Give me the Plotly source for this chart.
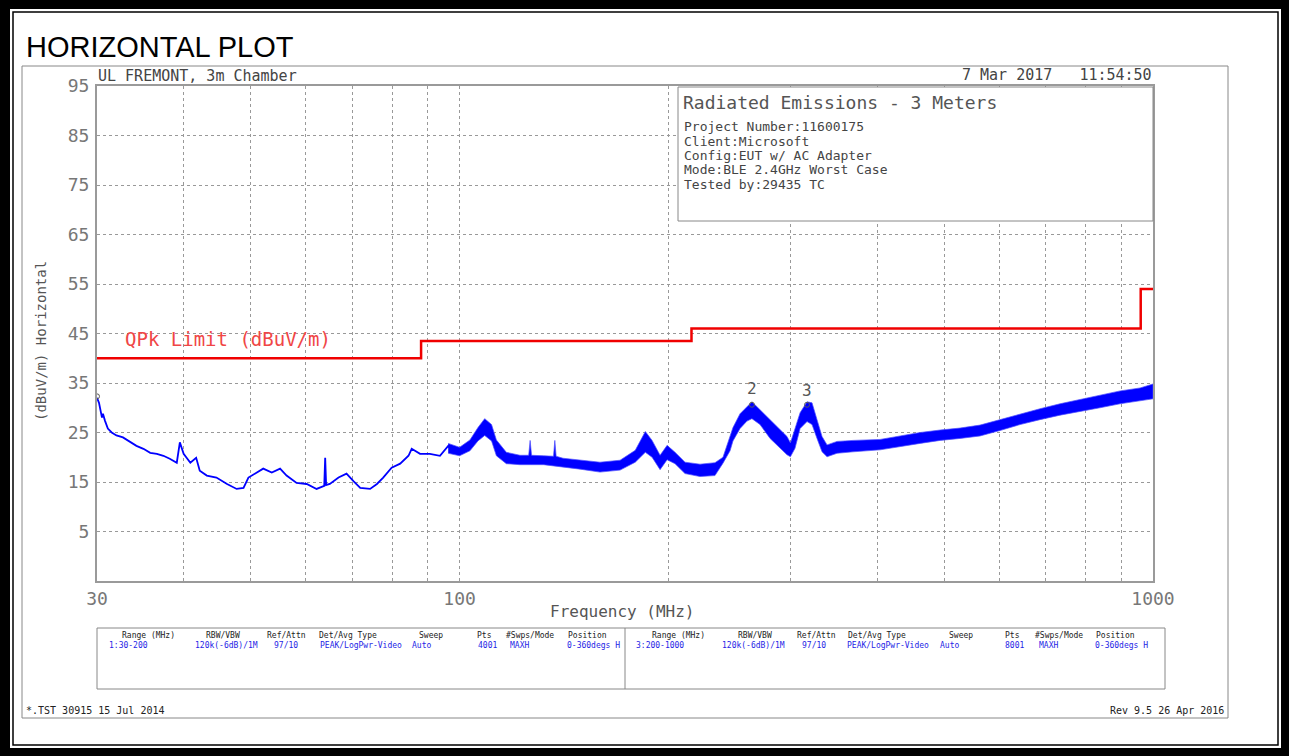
import math
import plotly.graph_objects as go

# ---------------- data ----------------
# 30-100 MHz: the trace is a thin line
trace_freq = [30.0, 30.2, 30.5, 30.6, 30.8, 31.1, 31.5, 32.0, 32.7, 33.5, 34.2, 35.0, 35.8,
              36.6, 37.4, 38.2, 39.1, 39.5, 40.0, 40.9, 41.7, 42.2, 43.2, 44.6, 46.2, 47.7,
              48.8, 49.6, 51.0, 52.1, 53.6, 55.1, 56.3, 58.2, 60.2, 62.2, 63.8, 64.0, 64.2,
              65.0, 66.9, 68.7, 70.3, 71.9, 74.3, 76.0, 77.6, 79.8, 82.1, 84.4, 85.3, 87.7,
              90.6, 93.7, 96.3, 98.0]
trace_db = [32.0, 31.0, 28.0, 28.8, 27.4, 25.8, 25.0, 24.4, 24.0, 23.0, 22.3, 21.7, 20.9,
            20.7, 20.3, 19.7, 18.9, 23.0, 20.7, 18.9, 19.9, 17.3, 16.3, 15.9, 14.6, 13.6,
            13.8, 15.9, 16.9, 17.7, 16.9, 17.7, 16.3, 14.8, 14.6, 13.6, 14.2, 19.9, 14.4,
            14.6, 15.9, 16.7, 15.2, 13.8, 13.6, 14.6, 15.9, 17.9, 18.7, 20.3, 21.7, 20.7,
            20.7, 20.3, 22.3, 21.0]

# 96-1000 MHz: dense noisy trace, read as upper / lower envelope
band_freq = [96.3, 100.0, 103.5, 106.3, 108.7, 111.2, 113.0, 116.8, 122.2, 125.8, 126.4,
             127.0, 132.2, 136.6, 137.2, 137.8, 141.0, 149.2, 159.4, 170.4, 179.2, 185.3,
             189.5, 194.6, 199.2, 204.5, 211.4, 222.2, 233.5, 239.8, 245.5, 247.9, 253.8,
             259.7, 264.0, 271.2, 280.4, 289.8, 296.6, 300.0, 304.6, 309.8, 317.0, 322.3,
             327.7, 333.2, 338.8, 350.2, 369.4, 404.1, 431.8, 461.5, 493.2, 526.9, 563.1,
             601.7, 643.1, 687.2, 734.4, 785.0, 838.8, 896.5, 958.0, 1000.0]
band_hi = [22.8, 22.0, 23.5, 26.0, 27.8, 26.6, 23.5, 21.0, 20.4, 20.4, 23.4, 20.4, 20.3,
           20.2, 23.4, 20.2, 19.8, 19.4, 19.0, 19.4, 21.4, 25.2, 23.4, 20.4, 22.4, 21.0,
           19.0, 18.6, 18.9, 20.0, 24.0, 26.0, 28.8, 30.2, 31.2, 29.6, 27.6, 25.6, 24.2,
           22.9, 26.0, 29.0, 31.2, 31.0, 27.6, 24.2, 22.5, 23.2, 23.4, 23.6, 24.3, 25.0,
           25.5, 25.9, 26.5, 27.6, 28.8, 29.8, 30.8, 31.7, 32.5, 33.4, 34.0, 34.8]
band_lo = [20.8, 20.3, 21.3, 23.3, 24.4, 23.3, 20.3, 18.7, 18.5, 18.5, 18.5, 18.5, 18.5,
           18.3, 18.3, 18.3, 18.0, 17.6, 17.0, 17.4, 19.0, 21.0, 20.0, 17.5, 19.5, 18.7,
           16.7, 16.1, 16.3, 18.8, 21.3, 23.3, 25.8, 27.3, 27.8, 26.6, 23.8, 21.8, 20.5,
           20.1, 21.8, 25.8, 27.2, 26.6, 23.8, 21.1, 20.1, 20.8, 21.1, 21.5, 22.2, 22.8,
           23.4, 23.8, 24.3, 25.4, 26.6, 27.6, 28.5, 29.3, 30.0, 30.8, 31.4, 31.8]

limit_freq = [30, 88, 216, 960, 1000]
limit_db = [40.0, 43.5, 46.0, 54.0, 54.0]

marker_freq = [30.0, 264.0, 317.0]
marker_db = [32.3, 30.6, 30.6]
marker_label = ["", "2", "3"]
marker_label_db = [33.8, 33.8, 33.4]

y_ticks = [5, 15, 25, 35, 45, 55, 65, 75, 85, 95]
x_grid = [30, 40, 50, 60, 70, 80, 90, 100, 200, 300, 400, 500, 600, 700, 800, 900, 1000]
x_labels = {30: "30", 100: "100", 1000: "1000"}

info_title = "Radiated Emissions - 3 Meters"
info_lines = ["Project Number:11600175", "Client:Microsoft", "Config:EUT w/ AC Adapter",
              "Mode:BLE 2.4GHz Worst Case", "Tested by:29435 TC"]

table_headers = ["Range (MHz)", "RBW/VBW", "Ref/Attn", "Det/Avg Type", "Sweep", "Pts",
                 "#Swps/Mode", "Position"]
table_row1 = ["1:30-200", "120k(-6dB)/1M", "97/10", "PEAK/LogPwr-Video", "Auto", "4001",
              "MAXH", "0-360degs H"]
table_row2 = ["3:200-1000", "120k(-6dB)/1M", "97/10", "PEAK/LogPwr-Video", "Auto", "8001",
              "MAXH", "0-360degs H"]

# ---------------- layout helpers (pixel -> paper) ----------------
W, H = 1289, 756
L, R, T, B = 97, 1153, 86, 581


def px(x):
    return (x - L) / (R - L)


def py(y):
    return (B - y) / (B - T)


MONO = "DejaVu Sans Mono"
BLUE = "rgb(0,0,255)"

fig = go.Figure()

# measured trace: dense band above 96 MHz
fig.add_trace(go.Scatter(
    x=band_freq + band_freq[::-1],
    y=band_hi + band_lo[::-1],
    fill="toself", fillcolor=BLUE,
    line=dict(color="rgba(80,80,255,0.7)", width=1),
    mode="lines", hoverinfo="skip", showlegend=False))

# measured trace: thin line below 100 MHz
fig.add_trace(go.Scatter(
    x=trace_freq, y=trace_db, mode="lines",
    line=dict(color=BLUE, width=1.8), hoverinfo="skip", showlegend=False))

# limit line
fig.add_trace(go.Scatter(
    x=limit_freq, y=limit_db, mode="lines", line_shape="hv",
    line=dict(color="rgb(240,0,0)", width=2.5), showlegend=False))

# markers
fig.add_trace(go.Scatter(
    x=marker_freq, y=marker_db, mode="markers",
    marker=dict(symbol="circle-open", size=5, color="rgb(90,90,90)", line=dict(width=1)),
    showlegend=False))

ann = []
for f, d, lab in zip(marker_freq, marker_label_db, marker_label):
    if lab:
        ann.append(dict(x=math.log10(f), y=d, xref="x", yref="y", text=lab, showarrow=False,
                        font=dict(family=MONO, size=16, color="#555"), yanchor="middle"))

# texts
ann.append(dict(x=px(24), y=py(47), xref="paper", yref="paper", text="HORIZONTAL PLOT",
                showarrow=False, xanchor="left", yanchor="middle",
                font=dict(family="Liberation Sans", size=29, color="black")))
ann.append(dict(x=px(96), y=py(76), xref="paper", yref="paper", text="UL FREMONT, 3m Chamber",
                showarrow=False, xanchor="left", yanchor="middle",
                font=dict(family=MONO, size=15, color="#444")))
ann.append(dict(x=px(1154), y=py(75), xref="paper", yref="paper", text="7 Mar 2017   11:54:50",
                showarrow=False, xanchor="right", yanchor="middle",
                font=dict(family=MONO, size=15, color="#444")))
ann.append(dict(x=px(681), y=py(102), xref="paper", yref="paper", text=info_title,
                showarrow=False, xanchor="left", yanchor="middle",
                font=dict(family=MONO, size=18, color="#555")))
for i, line in enumerate(info_lines):
    ann.append(dict(x=px(682), y=py(127 + i * 14.3), xref="paper", yref="paper", text=line,
                    showarrow=False, xanchor="left", yanchor="middle",
                    font=dict(family=MONO, size=13, color="#444")))
ann.append(dict(x=px(123), y=py(339), xref="paper", yref="paper", text="QPk Limit (dBuV/m)",
                showarrow=False, xanchor="left", yanchor="middle",
                font=dict(family=MONO, size=19, color="rgb(240,70,70)")))
ann.append(dict(x=px(622), y=py(611), xref="paper", yref="paper", text="Frequency (MHz)",
                showarrow=False, xanchor="center", yanchor="middle",
                font=dict(family=MONO, size=16, color="#555")))
ann.append(dict(x=px(41), y=py(341), xref="paper", yref="paper", text="(dBuV/m) Horizontal",
                showarrow=False, xanchor="center", yanchor="middle", textangle=-90,
                font=dict(family=MONO, size=14, color="#555")))

# table
hdr_x = [[120, 204, 265, 317, 417, 475, 504, 566], [650, 736, 795, 846, 947, 1003, 1033, 1094]]
val_x = [[107, 193, 272, 318, 410, 476, 508, 565], [634, 720, 800, 845, 938, 1003, 1037, 1093]]
for half, row in enumerate([table_row1, table_row2]):
    for j in range(len(table_headers)):
        ann.append(dict(x=px(hdr_x[half][j]), y=py(635), xref="paper", yref="paper",
                        text=table_headers[j], showarrow=False, xanchor="left", yanchor="middle",
                        font=dict(family=MONO, size=8, color="#222")))
        ann.append(dict(x=px(val_x[half][j]), y=py(645), xref="paper", yref="paper",
                        text=row[j], showarrow=False, xanchor="left", yanchor="middle",
                        font=dict(family=MONO, size=8, color="rgb(30,30,230)")))

ann.append(dict(x=px(24), y=py(710), xref="paper", yref="paper", text="*.TST 30915 15 Jul 2014",
                showarrow=False, xanchor="left", yanchor="middle",
                font=dict(family=MONO, size=10, color="#222")))
ann.append(dict(x=px(1226), y=py(710), xref="paper", yref="paper", text="Rev 9.5 26 Apr 2016",
                showarrow=False, xanchor="right", yanchor="middle",
                font=dict(family=MONO, size=10, color="#222")))

shapes = []


def rect(x0, y0, x1, y1, **kw):
    shapes.append(dict(type="rect", xref="paper", yref="paper",
                       x0=px(x0), x1=px(x1), y0=py(y1), y1=py(y0), **kw))


# black page frame
rect(0, 0, 10, H, fillcolor="black", line=dict(width=0))
rect(1281, 0, W, H, fillcolor="black", line=dict(width=0))
rect(0, 0, W, 9, fillcolor="black", line=dict(width=0))
rect(0, 748, W, H, fillcolor="black", line=dict(width=0))
rect(13, 12, 1278, 745, line=dict(color="black", width=1.5))
# inner gray page box
rect(22, 66, 1228, 718, line=dict(color="#888", width=1))
# info box
rect(678, 87, 1153, 221, line=dict(color="#888", width=1), fillcolor="white")
# table box
rect(97, 628, 1165, 689, line=dict(color="#888", width=1))
shapes.append(dict(type="line", xref="paper", yref="paper", x0=px(625), x1=px(625),
                   y0=py(628), y1=py(689), line=dict(color="#888", width=1)))

fig.update_layout(
    width=W, height=H,
    margin=dict(l=L, r=W - R, t=T, b=H - B, pad=0),
    paper_bgcolor="white", plot_bgcolor="white",
    showlegend=False,
    annotations=ann, shapes=shapes,
    xaxis=dict(type="log", range=[math.log10(30), 3],
               tickvals=x_grid, ticktext=[x_labels.get(v, "") for v in x_grid],
               showgrid=True, gridcolor="#999", griddash="dot", gridwidth=1,
               showline=True, mirror=True, linecolor="#9a9a9a", linewidth=2,
               ticks="", tickfont=dict(family=MONO, size=18, color="#777"),
               zeroline=False),
    yaxis=dict(range=[-5, 95], tickvals=y_ticks, ticktext=[str(v) for v in y_ticks],
               showgrid=True, gridcolor="#999", griddash="dot", gridwidth=1,
               showline=True, mirror=True, linecolor="#9a9a9a", linewidth=2,
               ticks="", ticklabelstandoff=2,
               tickfont=dict(family=MONO, size=18, color="#777"), zeroline=False),
)

fig.write_html("out.html", config={"displayModeBar": False},
               post_script="document.body.style.margin='0';")
